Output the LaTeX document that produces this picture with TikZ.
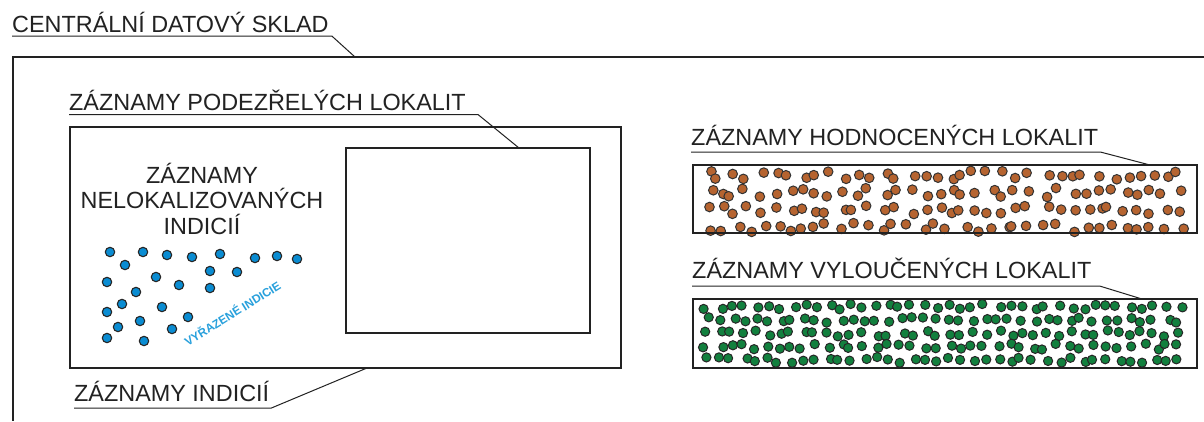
\documentclass[tikz,border=0pt]{standalone}
\usepackage{fontspec}
\setmainfont{Liberation Sans}
\definecolor{bluedot}{RGB}{10,140,210}
\definecolor{bluetxt}{RGB}{40,160,220}
\definecolor{browndot}{RGB}{182,100,48}
\definecolor{greendot}{RGB}{18,128,62}
\definecolor{ink}{RGB}{34,34,34}
\tikzset{
  lab/.style={font=\fontsize{23.4}{26}\selectfont, inner sep=0pt, anchor=base west, text=ink},
  labc/.style={font=\fontsize{23.4}{26}\selectfont, inner sep=0pt, anchor=base, text=ink},
  boxline/.style={draw=ink, line width=1.3pt},
  leader/.style={draw=ink, line width=1pt},
  bdot/.style={fill=bluedot, draw=black!85, line width=1.1pt},
  brdot/.style={fill=browndot, draw=black!80, line width=1pt},
  gdot/.style={fill=greendot, draw=black!85, line width=1pt},
}
\begin{document}
\begin{tikzpicture}[x=1pt,y=-1pt]
\useasboundingbox (0,0) rectangle (1204,421);
\fill[white] (0,0) rectangle (1204,421);
% central store
\draw[boxline] (1204,57) -- (13,57) -- (13,421);
\node[lab] (cds) at (12,32) {CENTRÁLNÍ DATOVÝ SKLAD};
\coordinate (cdsend) at (355,57);
\draw[leader] ([yshift=-4pt]cds.base west) -- ([xshift=3pt,yshift=-4pt]cds.base east) -- (cdsend);
% indicie box
\draw[boxline] (70,127) rectangle (621,368);
\draw[boxline] (346,148) rectangle (590,333);
\node[lab] (pod) at (69,110) {ZÁZNAMY PODEZŘELÝCH LOKALIT};
\coordinate (podend) at (519,148);
\draw[leader] ([yshift=-4.5pt]pod.base west) -- ([xshift=12pt,yshift=-4.5pt]pod.base east) -- (podend);
\node[lab] (ind) at (74,401) {ZÁZNAMY INDICIÍ};
\coordinate (indend) at (367,368);
\draw[leader] ([yshift=-7pt]ind.base west) -- ([xshift=2pt,yshift=-7pt]ind.base east) -- (indend);
\node[labc] (nel1) at (202,183) {ZÁZNAMY};
\node[labc] (nel2) at (202,208.5) {NELOKALIZOVANÝCH};
\node[labc] (nel3) at (202,234) {INDICIÍ};
\foreach \px/\py in {110/252,143/252,167/255,192/257,220/254,255/258,277/256,297/259,
  125/265,210/271,237/272,107/282,156/277,179/285,210/288,136/292,122/304,162/307,
  107/312,140/321,188/317,118/327,172/329,107/338,144/341}
  \filldraw[bdot] (\px,\py) circle[radius=4.7pt];
\node[font=\fontsize{11.8}{13}\selectfont\bfseries, text=bluetxt, rotate=32, inner sep=0pt] (vyr) at (232,313) {VYŘAZENÉ INDICIE};
% hodnocene
\node[lab] (hod) at (691,145) {ZÁZNAMY HODNOCENÝCH LOKALIT};
\coordinate (hodend) at (1150,165);
\draw[leader] ([yshift=-7pt]hod.base west) -- ([xshift=2pt,yshift=-7pt]hod.base east) -- (hodend);
\pgfmathsetseed{4711}
\foreach \c in {0,...,35}{
  \foreach \r in {0,...,3}{
    \pgfmathsetmacro{\px}{701+(\c+0.5)*13.45+(rnd-0.5)*12}
    \pgfmathsetmacro{\py}{175+\r*17.5+(rnd-0.5)*9}
    \filldraw[brdot] (\px,\py) circle[radius=4.8pt];
  }
}
\draw[boxline] (693,165) rectangle (1197,233);
% vyloucene
\node[lab] (vyl) at (692,278) {ZÁZNAMY VYLOUČENÝCH LOKALIT};
\coordinate (vylend) at (1142,299);
\draw[leader] ([yshift=-8pt]vyl.base west) -- ([xshift=8pt,yshift=-8pt]vyl.base east) -- (vylend);
\pgfmathsetseed{2024}
\foreach \c in {0,...,39}{
  \foreach \r in {0,...,4}{
    \pgfmathsetmacro{\px}{701+(\c+0.5)*12.1+(rnd-0.5)*9}
    \pgfmathsetmacro{\py}{307+\r*13.2+(rnd-0.5)*6}
    \filldraw[gdot] (\px,\py) circle[radius=4.6pt];
  }
}
\draw[boxline] (693,299) rectangle (1197,368);
\end{tikzpicture}
\end{document}
